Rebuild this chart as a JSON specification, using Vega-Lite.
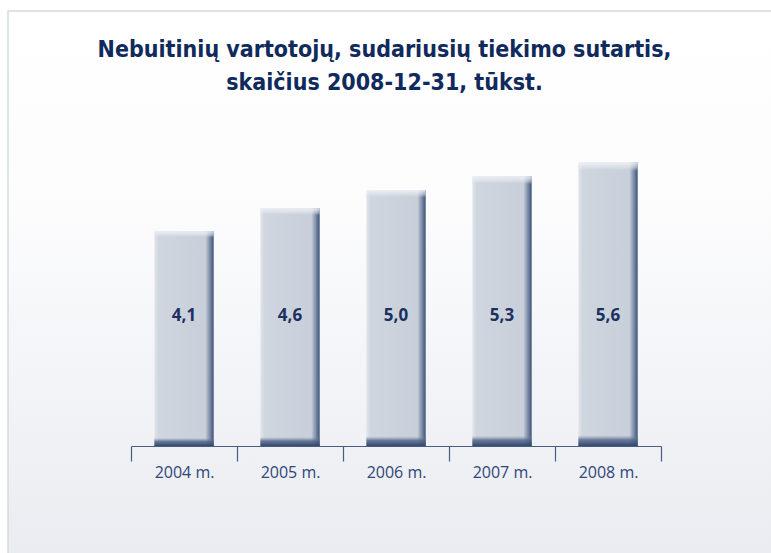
{
  "$schema": "https://vega.github.io/schema/vega-lite/v6.json",
  "width": 775,
  "height": 560,
  "autosize": {"type": "none"},
  "padding": {"left": 8, "top": 11, "right": 0, "bottom": 0},
  "background": "#ffffff",
  "title": {
    "text": ["Nebuitinių vartotojų, sudariusių tiekimo sutartis,", "skaičius 2008-12-31, tūkst."],
    "font": "'DejaVu Sans Condensed', 'Roboto Condensed', 'Open Sans'",
    "fontSize": 23,
    "fontWeight": "bold",
    "color": "#102a5c",
    "lineHeight": 33,
    "anchor": "middle",
    "baseline": "top",
    "offset": -84,
    "dx": -11
  },
  "data": {
    "values": [
      {"year": "2004 m.", "value": 4.1, "label": "4,1"},
      {"year": "2005 m.", "value": 4.6, "label": "4,6"},
      {"year": "2006 m.", "value": 5.0, "label": "5,0"},
      {"year": "2007 m.", "value": 5.3, "label": "5,3"},
      {"year": "2008 m.", "value": 5.6, "label": "5,6"}
    ]
  },
  "encoding": {
    "x": {
      "field": "year",
      "type": "ordinal",
      "sort": null,
      "scale": {"range": [123, 653], "paddingInner": 0, "paddingOuter": 0},
      "axis": {
        "title": null,
        "labelAngle": 0,
        "orient": "bottom",
        "offset": -125,
        "domainColor": "#4a5d80",
        "domainWidth": 1.2,
        "tickColor": "#4a5d80",
        "tickWidth": 1.2,
        "tickSize": 15,
        "tickBand": "extent",
        "labelPadding": 3,
        "labelFont": "Open Sans",
        "labelFontSize": 16,
        "labelColor": "#30457a",
        "labelFontWeight": "normal",
        "grid": false
      }
    }
  },
  "layer": [
    {
      "mark": {
        "type": "bar",
        "width": {"band": 0.56},
        "fill": {
          "gradient": "linear",
          "x1": 0, "y1": 0, "x2": 1, "y2": 0,
          "stops": [
            {"offset": 0, "color": "#e2e6ec"},
            {"offset": 0.07, "color": "#d0d6df"},
            {"offset": 0.5, "color": "#cbd2dc"},
            {"offset": 0.86, "color": "#c8cfda"},
            {"offset": 0.93, "color": "#8292ab"},
            {"offset": 1, "color": "#3c5279"}
          ]
        }
      },
      "encoding": {
        "y": {
          "field": "value",
          "type": "quantitative",
          "scale": {"domain": [-0.6, 6.4], "range": [435, 115], "nice": false, "zero": false},
          "axis": null
        },
        "y2": {"datum": -0.6}
      }
    },
    {
      "mark": {
        "type": "bar",
        "width": {"band": 0.56},
        "fill": {
          "gradient": "linear",
          "x1": 0, "y1": 0, "x2": 0, "y2": 1,
          "stops": [
            {"offset": 0, "color": "rgba(240,243,247,0.9)"},
            {"offset": 0.018, "color": "rgba(230,234,240,0.5)"},
            {"offset": 0.03, "color": "rgba(203,210,220,0)"},
            {"offset": 0.962, "color": "rgba(120,138,165,0)"},
            {"offset": 0.978, "color": "rgba(80,100,135,0.8)"},
            {"offset": 1, "color": "rgba(50,70,110,1)"}
          ]
        }
      },
      "encoding": {
        "y": {"field": "value", "type": "quantitative"},
        "y2": {"datum": -0.6}
      }
    },
    {
      "mark": {
        "type": "text",
        "font": "Open Sans",
        "fontSize": 17,
        "fontWeight": "bold",
        "color": "#1b305e",
        "baseline": "middle"
      },
      "encoding": {
        "y": {"datum": 2.25},
        "text": {"field": "label"}
      }
    }
  ],
  "config": {
    "view": {
      "stroke": "#d3d9e2",
      "strokeWidth": 1.5,
      "fill": {
        "gradient": "linear",
        "x1": 0, "y1": 0, "x2": 0, "y2": 1,
        "stops": [
          {"offset": 0, "color": "#ffffff"},
          {"offset": 0.35, "color": "#fcfcfd"},
          {"offset": 1, "color": "#e8ebf0"}
        ]
      }
    }
  }
}
